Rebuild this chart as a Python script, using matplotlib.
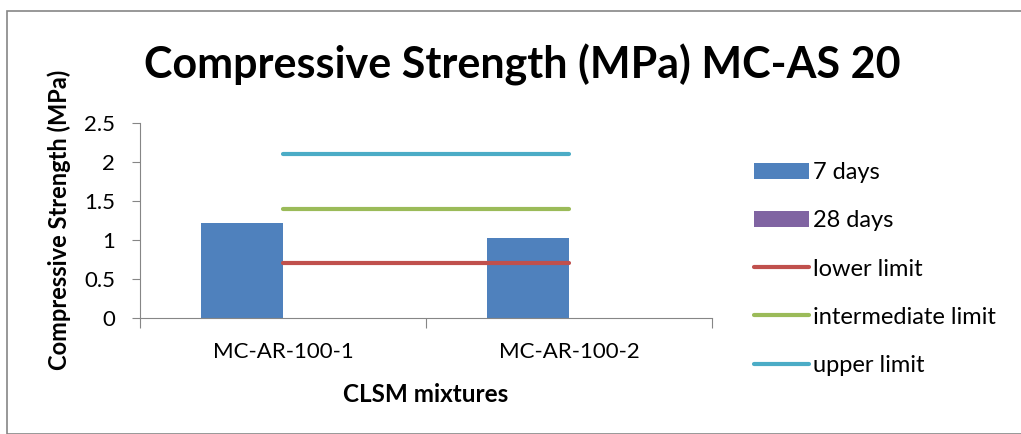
import matplotlib.pyplot as plt
import matplotlib.patches as mpatches
import numpy as np

plt.rcParams['font.family'] = ['Lato', 'DejaVu Sans']

# data
mixtures = ['MC-AR-100-1', 'MC-AR-100-2']
days7 = [1.22, 1.02]
days28 = [0, 0]
lower_limit = [0.7, 0.7]
intermediate_limit = [1.4, 1.4]
upper_limit = [2.1, 2.1]

fig = plt.figure(figsize=(10.21, 4.34), dpi=100)
ax = fig.add_axes([140/1021, 1-318/434, (712-140)/1021, (318-123)/434])

x = np.arange(len(mixtures))
w = 0.285
b1 = ax.bar(x - w/2, days7, w, color='#4F81BD', label='7 days')
b2 = ax.bar(x + w/2, days28, w, color='#8064A2', label='28 days')
l1, = ax.plot(x, lower_limit, color='#C0504D', lw=3, solid_capstyle='round', label='lower limit')
l2, = ax.plot(x, intermediate_limit, color='#9BBB59', lw=3, solid_capstyle='round', label='intermediate limit')
l3, = ax.plot(x, upper_limit, color='#4BACC6', lw=3, solid_capstyle='round', label='upper limit')

ax.set_xlim(-0.5, 1.5)
ax.set_ylim(0, 2.5)
ax.set_yticks([0, 0.5, 1, 1.5, 2, 2.5])
ax.set_yticklabels(['0', '0.5', '1', '1.5', '2', '2.5'])
ax.set_xticks([-0.5, 0.5, 1.5], minor=False)
ax.set_xticklabels([])
ax.set_xticks(x, minor=True)
ax.set_xticklabels(mixtures, minor=True)
ax.tick_params(axis='x', which='minor', length=0, labelsize=16, pad=17)
ax.tick_params(axis='x', which='major', length=7, color='#868686')
ax.tick_params(axis='y', length=6, color='#868686', labelsize=16, pad=12)
for s in ['top', 'right']:
    ax.spines[s].set_visible(False)
for s in ['left', 'bottom']:
    ax.spines[s].set_color('#868686')

fig.text(522/1021, 1-78/434, 'Compressive Strength (MPa) MC-AS 20', ha='center', va='baseline',
         fontsize=31, fontweight='bold')
fig.text(59/1021, 1-220/434, 'Compressive Strength (MPa)', ha='center', va='center',
         rotation=90, fontsize=17, fontweight='bold')
fig.text(426/1021, 1-402/434, 'CLSM mixtures', ha='center', va='baseline',
         fontsize=17.5, fontweight='bold')

fig.legend(handles=[b1, b2, l1, l2, l3], loc='upper left', bbox_to_anchor=(733/1021, 1-141/434),
           frameon=False, fontsize=17, handlelength=2.3, handletextpad=0.2, labelspacing=1.15)

fig.patches.append(mpatches.Rectangle((7/1021, 0), 1.0, 1-11/434, transform=fig.transFigure,
                                      fill=False, edgecolor='#868686', lw=1.2))

fig.savefig('out.png', dpi=100)
